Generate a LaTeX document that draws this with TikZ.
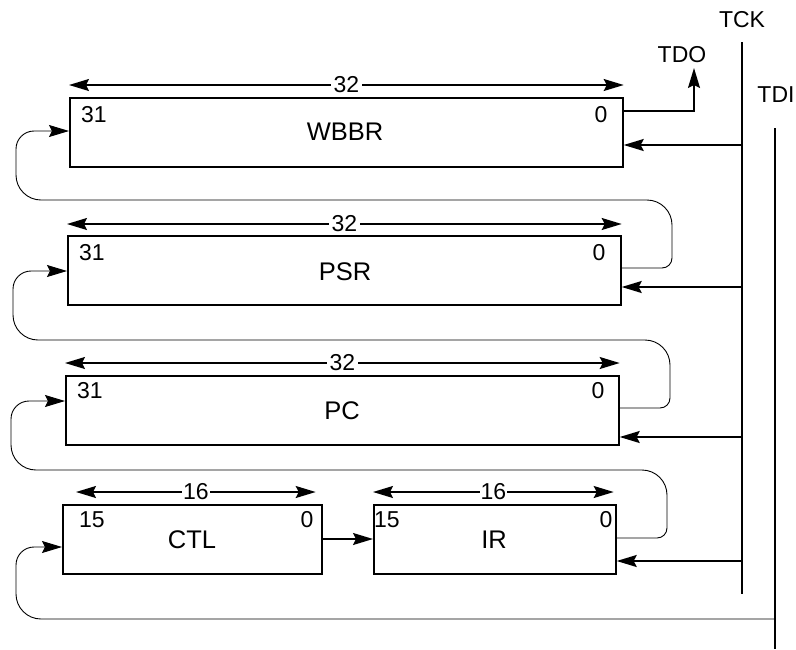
\documentclass[tikz,border=0pt]{standalone}
\usepackage{fontspec}
\setmainfont{Liberation Sans}
\usetikzlibrary{arrows.meta}
\begin{document}
\begin{tikzpicture}[x=1pt,y=-1pt,
  font=\fontsize{23}{27}\selectfont,
  reg/.style={draw,line width=1.7pt,inner sep=0pt,anchor=north west},
  thk/.style={line width=1.6pt},
  arr/.style={thk,-{Stealth[length=20pt,width=12pt,inset=3pt]}},
  dimarr/.style={thk,{Stealth[length=20pt,width=12pt,inset=3pt]}-{Stealth[length=20pt,width=12pt,inset=3pt]}},
  lp/.style={line width=0.9pt,-{Stealth[length=20pt,width=12pt,inset=3pt]}},
  dimlbl/.style={fill=white,inner sep=3pt},
  txt/.style={inner sep=0pt},
  regname/.style={inner sep=0pt,font=\fontsize{25.5}{30}\selectfont}]
\useasboundingbox (0,0) rectangle (796,649);

% registers
\node[reg,minimum width=553pt,minimum height=69pt] (wbbr) at (69,97) {};
\node[reg,minimum width=553pt,minimum height=69pt] (psr) at (67,235) {};
\node[reg,minimum width=553pt,minimum height=69pt] (pc) at (65,375) {};
\node[reg,minimum width=259pt,minimum height=69pt] (ctl) at (62,504) {};
\node[reg,minimum width=242pt,minimum height=69pt] (ir) at (373,504) {};

% texts in registers
\node[txt] (w31) at (94,115) {31};
\node[txt] (w0) at (601,115) {0};
\node[regname] (wn) at (345,132) {WBBR};
\node[txt] (p31) at (92,253) {31};
\node[txt] (p0) at (599,253) {0};
\node[regname] (pn) at (345,272) {PSR};
\node[txt] (c31) at (90,391) {31};
\node[txt] (c0) at (598,391) {0};
\node[regname] (cn) at (342,411) {PC};
\node[txt] (t15) at (92,520) {15};
\node[txt] (t0) at (307,520) {0};
\node[regname] (tn) at (192,540) {CTL};
\node[txt] (i15) at (387,520) {15};
\node[txt] (i0) at (606,520) {0};
\node[regname] (in) at (494,540) {IR};

% width arrows
\draw[dimarr] ([yshift=12pt]wbbr.north west) -- ([yshift=12pt]wbbr.north east)
  node[midway,dimlbl] (w32) {32};
\draw[dimarr] ([yshift=11pt]psr.north west) -- ([yshift=11pt]psr.north east)
  node[midway,dimlbl] (p32) {32};
\draw[dimarr] ([yshift=12pt]pc.north west) -- ([yshift=12pt]pc.north east)
  node[midway,dimlbl] (c32) {32};
\draw[dimarr] ([xshift=14pt,yshift=12pt]ctl.north west) -- ([xshift=-7pt,yshift=12pt]ctl.north east)
  node[pos=0.5,dimlbl,inner sep=1pt] (t16) {16};
\draw[dimarr] ([yshift=12pt]ir.north west) -- ([xshift=-3pt,yshift=12pt]ir.north east)
  node[pos=0.5,dimlbl,inner sep=1pt] (i16) {16};

% signal lines
\node[txt] (tck) at (742,20) {TCK};
\node[txt] (tdi) at (776,95) {TDI};
\node[txt] (tdo) at (682,55) {TDO};
\coordinate (tcktop) at (742,42);
\coordinate (tckbot) at (742,594);
\coordinate (tditop) at (775,128);
\coordinate (tdibot) at (775,649);
\draw[thk] (tcktop) -- (tckbot);
\draw[thk] (tditop) -- (tdibot);

% clock arrows
\coordinate (k1) at (742,145);
\coordinate (k2) at (742,287);
\coordinate (k3) at (742,437);
\coordinate (k4) at (742,561);
\draw[arr] (k1) -- (k1 -| wbbr.east);
\draw[arr] (k2) -- (k2 -| psr.east);
\draw[arr] (k3) -- (k3 -| pc.east);
\draw[arr] (k4) -- (k4 -| ir.east);

% TDO
\coordinate (o1) at (622,111);
\draw[arr] (o1) -- (694,111) -- (694,68);

% CTL -> IR
\coordinate (ci) at (321,539);
\draw[arr] (ci) -- (ci -| ir.west);

% scan chain loops
\coordinate (po) at (620,268);
\coordinate (wi) at (69,131);
\draw[lp] (po) [rounded corners=10pt] -- (672,268) [rounded corners=25pt] -- (672,200)
  -- (16,200) [rounded corners=18pt] -- (16,131) -- (wi);

\coordinate (co) at (618,408);
\coordinate (pi) at (67,271);
\draw[lp] (co) [rounded corners=10pt] -- (670,408) [rounded corners=25pt] -- (670,340)
  -- (13,340) [rounded corners=18pt] -- (13,271) -- (pi);

\coordinate (io) at (615,538);
\coordinate (ci2) at (65,401);
\draw[lp] (io) [rounded corners=10pt] -- (667,538) [rounded corners=25pt] -- (667,470)
  -- (11,470) [rounded corners=18pt] -- (11,401) -- (ci2);

\coordinate (ti) at (775,619);
\coordinate (ctli) at (62,547);
\draw[lp] (ti) [rounded corners=25pt] -- (16,619) [rounded corners=18pt] -- (16,547) -- (ctli);
\end{tikzpicture}
\end{document}
